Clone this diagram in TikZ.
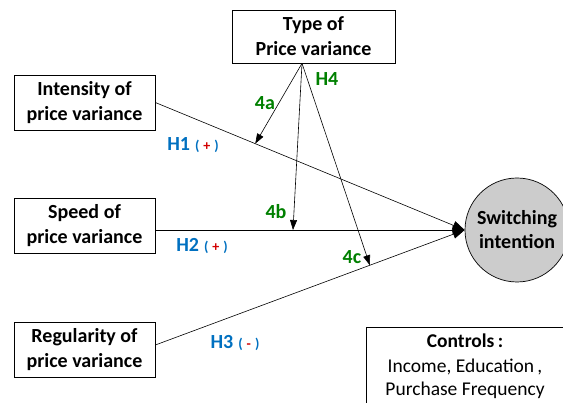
\documentclass[tikz,border=0pt]{standalone}
\usepackage{fontspec}
\setmainfont{Carlito}
\usetikzlibrary{arrows.meta}
\definecolor{hblue}{RGB}{0,112,192}
\definecolor{hgreen}{RGB}{0,128,0}
\definecolor{hred}{RGB}{210,0,0}
\tikzset{
  varbox/.style={draw, line width=0.7pt, align=center, inner sep=0pt,
    minimum width=141pt, minimum height=55pt,
    font=\fontsize{20}{25}\selectfont\bfseries},
  hyp/.style={font=\fontsize{20}{22}\selectfont\bfseries, text=hblue},
  modlab/.style={font=\fontsize{20}{22}\selectfont\bfseries, text=hgreen},
  link/.style={line width=0.6pt, -{Triangle[length=12pt,width=9pt]}},
  modlink/.style={line width=0.6pt, -{Triangle[length=10pt,width=7pt]}},
}
\newcommand{\sgn}[1]{\hspace{5pt}{\fontsize{14}{14}\selectfont(\hspace{4pt}\textcolor{hred}{#1}\hspace{4pt})}}

\begin{document}
\begin{tikzpicture}[x=1pt, y=-1pt]
%\draw[step=50pt, black!20] (0,0) grid (563,403);
\useasboundingbox (0,0) rectangle (563,403);

    % the three variance boxes and the moderator
    \node[varbox] (int) at (84.5,102.5) {Intensity of\\price variance};
    \node[varbox] (spd) at (84.5,226)   {Speed of\\price variance};
    \node[varbox] (reg) at (84.5,349.5) {Regularity of\\price variance};
    \node[varbox, minimum width=163pt, minimum height=53pt] (typ) at (313.5,36.5) {Type of\\Price variance};

    % outcome
    \node[draw, circle, line width=0.7pt, fill=gray!40, minimum size=104pt, inner sep=0pt,
          align=center, font=\fontsize{20}{24}\selectfont\bfseries] (sw) at (517,230) {Switching\\intention};

    % controls
    \node[draw, line width=0.7pt, minimum width=198pt, minimum height=79pt, align=center,
          font=\fontsize{19.5}{23}\selectfont] (ctl) at (465,366.5)
          {\textbf{Controls\,:}\\[2pt]Income, Education\,,\\Purchase Frequency};

    % direct effects
    \draw[link] (int.east) -- (sw.west) coordinate[pos=0.323] (ta);
    \draw[link] (spd.east |- sw.west) -- (sw.west) coordinate[pos=0.445] (tb);
    \draw[link] ([yshift=4.5pt]reg.east) -- (sw.west) coordinate[pos=0.6935] (tc);

    % moderation
    \coordinate (apex) at ([xshift=-11.5pt]typ.south);
    \draw[modlink] (apex) -- (ta);
    \draw[modlink] (apex) -- (tb);
    \draw[modlink] (apex) -- (tc);

    \node[modlab] (h4)  at (327,79)  {H4};
    \node[modlab] (l4a) at (265,103) {4a};
    \node[modlab] (l4b) at (276,212) {4b};
    \node[modlab] (l4c) at (352,257) {4c};

    \node[hyp] (h1) at (193,145) {H1\sgn{+}};
    \node[hyp] (h2) at (202,246) {H2\sgn{+}};
    \node[hyp] (h3) at (235,343) {H3\sgn{-}};

\end{tikzpicture}
\end{document}
